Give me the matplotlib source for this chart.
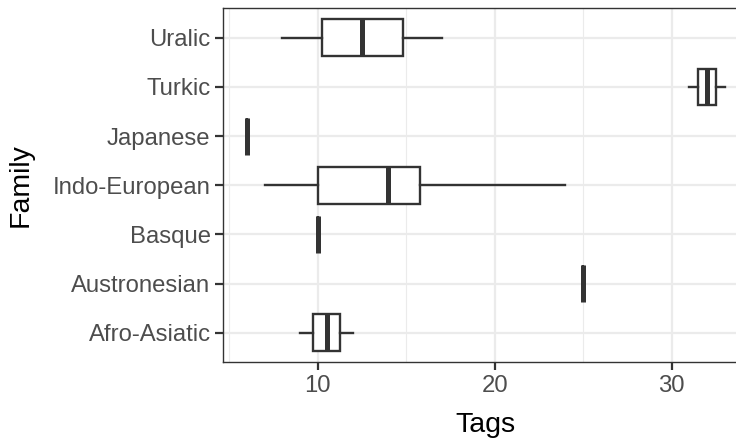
import matplotlib
matplotlib.use("Agg")
import matplotlib.pyplot as plt
from matplotlib.ticker import MultipleLocator

plt.rcParams['font.family'] = ['Liberation Sans', 'DejaVu Sans']

# boxplot summaries, bottom to top
families = ["Afro-Asiatic", "Austronesian", "Basque", "Indo-European",
            "Japanese", "Turkic", "Uralic"]
whislo = [9, 25, 10, 7, 6, 31, 8]
q1 = [9.75, 25, 10, 10, 6, 31.5, 10.25]
med = [10.5, 25, 10, 14, 6, 32, 12.5]
q3 = [11.25, 25, 10, 15.8, 6, 32.5, 14.8]
whishi = [12, 25, 10, 24, 6, 33, 17]

stats = []
for i in range(len(families)):
    stats.append(dict(label=families[i], whislo=whislo[i], q1=q1[i], med=med[i],
                      q3=q3[i], whishi=whishi[i], fliers=[]))

fig = plt.figure(figsize=(7.36, 4.41), dpi=100)
ax = fig.add_axes([0.303, 0.1785, 0.714, 0.8027])

dark = "#333333"
ax.bxp(stats, positions=range(len(families)), vert=False, widths=0.75,
       showcaps=False, showfliers=False, patch_artist=True,
       boxprops=dict(facecolor="white", edgecolor=dark, linewidth=1.7),
       whiskerprops=dict(color=dark, linewidth=1.7),
       medianprops=dict(color=dark, linewidth=3.6, solid_capstyle="butt"),
       zorder=3)

ax.set_xlim(4.65, 34.35)
ax.set_ylim(-0.6, len(families) - 0.4)
ax.xaxis.set_major_locator(MultipleLocator(10))
ax.xaxis.set_minor_locator(MultipleLocator(5))
ax.set_yticks(range(len(families)))
ax.set_yticklabels(families)

ax.grid(True, which="major", color="#EBEBEB", linewidth=1.6, zorder=0)
ax.grid(True, which="minor", axis="x", color="#EBEBEB", linewidth=0.8, zorder=0)
ax.set_axisbelow(True)

for s in ax.spines.values():
    s.set_color(dark)
    s.set_linewidth(1.0)

ax.tick_params(axis="both", which="major", length=5.5, width=1.6, color=dark,
               labelsize=17.2, labelcolor="#4D4D4D", pad=3.5)
ax.tick_params(axis="x", which="minor", length=0)

ax.set_xlabel("Tags", fontsize=20.5, labelpad=11)
ax.set_ylabel("Family", fontsize=20.5, labelpad=14)

fig.savefig("out.png", dpi=100)
